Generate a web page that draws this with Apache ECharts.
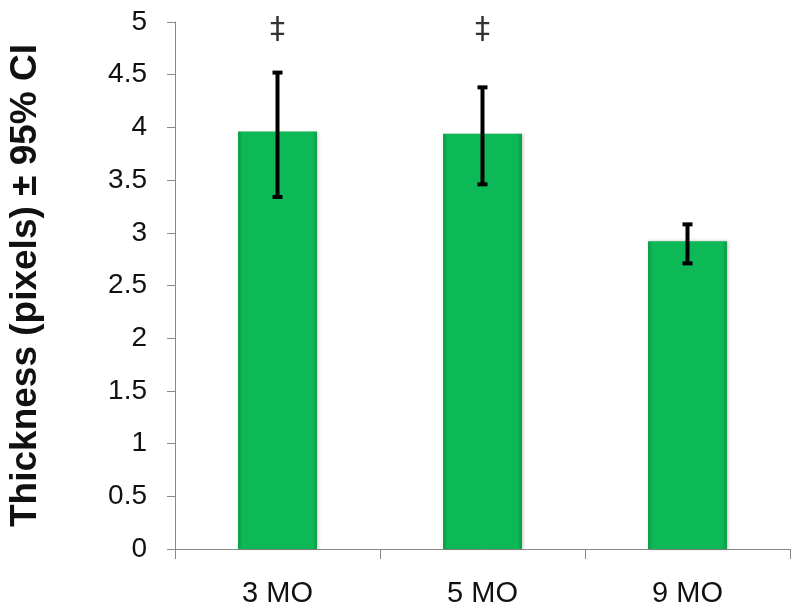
<!DOCTYPE html>
<html>
<head>
<meta charset="utf-8">
<script src="https://cdn.jsdelivr.net/npm/echarts@6/dist/echarts.min.js"></script>
<style>
  html, body { margin: 0; padding: 0; background: #fff; }
  #chart { width: 800px; height: 616px; }
</style>
</head>
<body>
<div id="chart"></div>
<script>
const categories = ['3 MO', '5 MO', '9 MO'];
const means = [3.96, 3.94, 2.92];
const ciLow = [3.34, 3.46, 2.71];
const ciHigh = [4.52, 4.38, 3.08];
const marks = ['‡', '‡', ''];
const markY = [4.92, 4.92, null];
const yTicks = { min: 0, max: 5, interval: 0.5 };

const chart = echarts.init(document.getElementById('chart'));

const errData = categories.map((c, i) => [i, ciLow[i], ciHigh[i]]);
const markData = categories.map((c, i) => marks[i] ? { value: [i, markY[i]], mark: marks[i] } : null).filter(d => d);

const axisColor = '#878787';
const textColor = '#111';

chart.setOption({
  animation: false,
  grid: { left: 175, right: 10, top: 22, bottom: 67, containLabel: false, outerBoundsMode: 'none' },
  xAxis: {
    type: 'category',
    data: categories,
    boundaryGap: true,
    axisLine: { lineStyle: { color: axisColor, width: 1 } },
    axisTick: { show: true, alignWithLabel: false, length: 10, lineStyle: { color: axisColor } },
    axisLabel: { color: textColor, fontSize: 29, fontFamily: 'Liberation Sans, Arial, sans-serif', margin: 30 }
  },
  yAxis: {
    type: 'value',
    min: yTicks.min, max: yTicks.max, interval: yTicks.interval,
    name: 'Thickness (pixels) ± 95% CI',
    nameLocation: 'middle',
    nameGap: 131,
    nameTextStyle: { color: textColor, fontSize: 37, fontWeight: 'bold', fontFamily: 'Liberation Sans, Arial, sans-serif' },
    axisLine: { show: true, lineStyle: { color: axisColor, width: 1 } },
    axisTick: { show: true, length: 8, lineStyle: { color: axisColor } },
    splitLine: { show: false },
    axisLabel: { color: textColor, fontSize: 28, fontFamily: 'Liberation Sans, Arial, sans-serif', margin: 28 }
  },
  series: [
    {
      type: 'bar',
      data: means,
      barWidth: '38.5%',
      itemStyle: {
        color: new echarts.graphic.LinearGradient(0, 0, 1, 0, [
          { offset: 0, color: '#0a9a47' },
          { offset: 0.06, color: '#0db956' },
          { offset: 0.94, color: '#0db956' },
          { offset: 1, color: '#0a9a47' }
        ]),
        shadowColor: 'rgba(0,0,0,0.25)',
        shadowBlur: 3,
        shadowOffsetX: 1
      }
    },
    {
      type: 'custom',
      data: errData,
      z: 10,
      renderItem: function (params, api) {
        const x = api.value(0);
        const lo = api.coord([x, api.value(1)]);
        const hi = api.coord([x, api.value(2)]);
        const cap = 5;
        const style = { stroke: '#000', lineWidth: 4 };
        return {
          type: 'group',
          children: [
            { type: 'line', shape: { x1: hi[0], y1: hi[1], x2: lo[0], y2: lo[1] }, style: style },
            { type: 'line', shape: { x1: hi[0] - cap, y1: hi[1], x2: hi[0] + cap, y2: hi[1] }, style: style },
            { type: 'line', shape: { x1: lo[0] - cap, y1: lo[1], x2: lo[0] + cap, y2: lo[1] }, style: style }
          ]
        };
      }
    },
    {
      type: 'scatter',
      data: markData,
      symbolSize: 0,
      label: {
        show: true,
        position: 'inside',
        formatter: p => p.data.mark,
        color: '#000',
        fontSize: 30,
        fontFamily: 'DejaVu Sans, Liberation Sans, sans-serif'
      }
    }
  ]
});
</script>
</body>
</html>
